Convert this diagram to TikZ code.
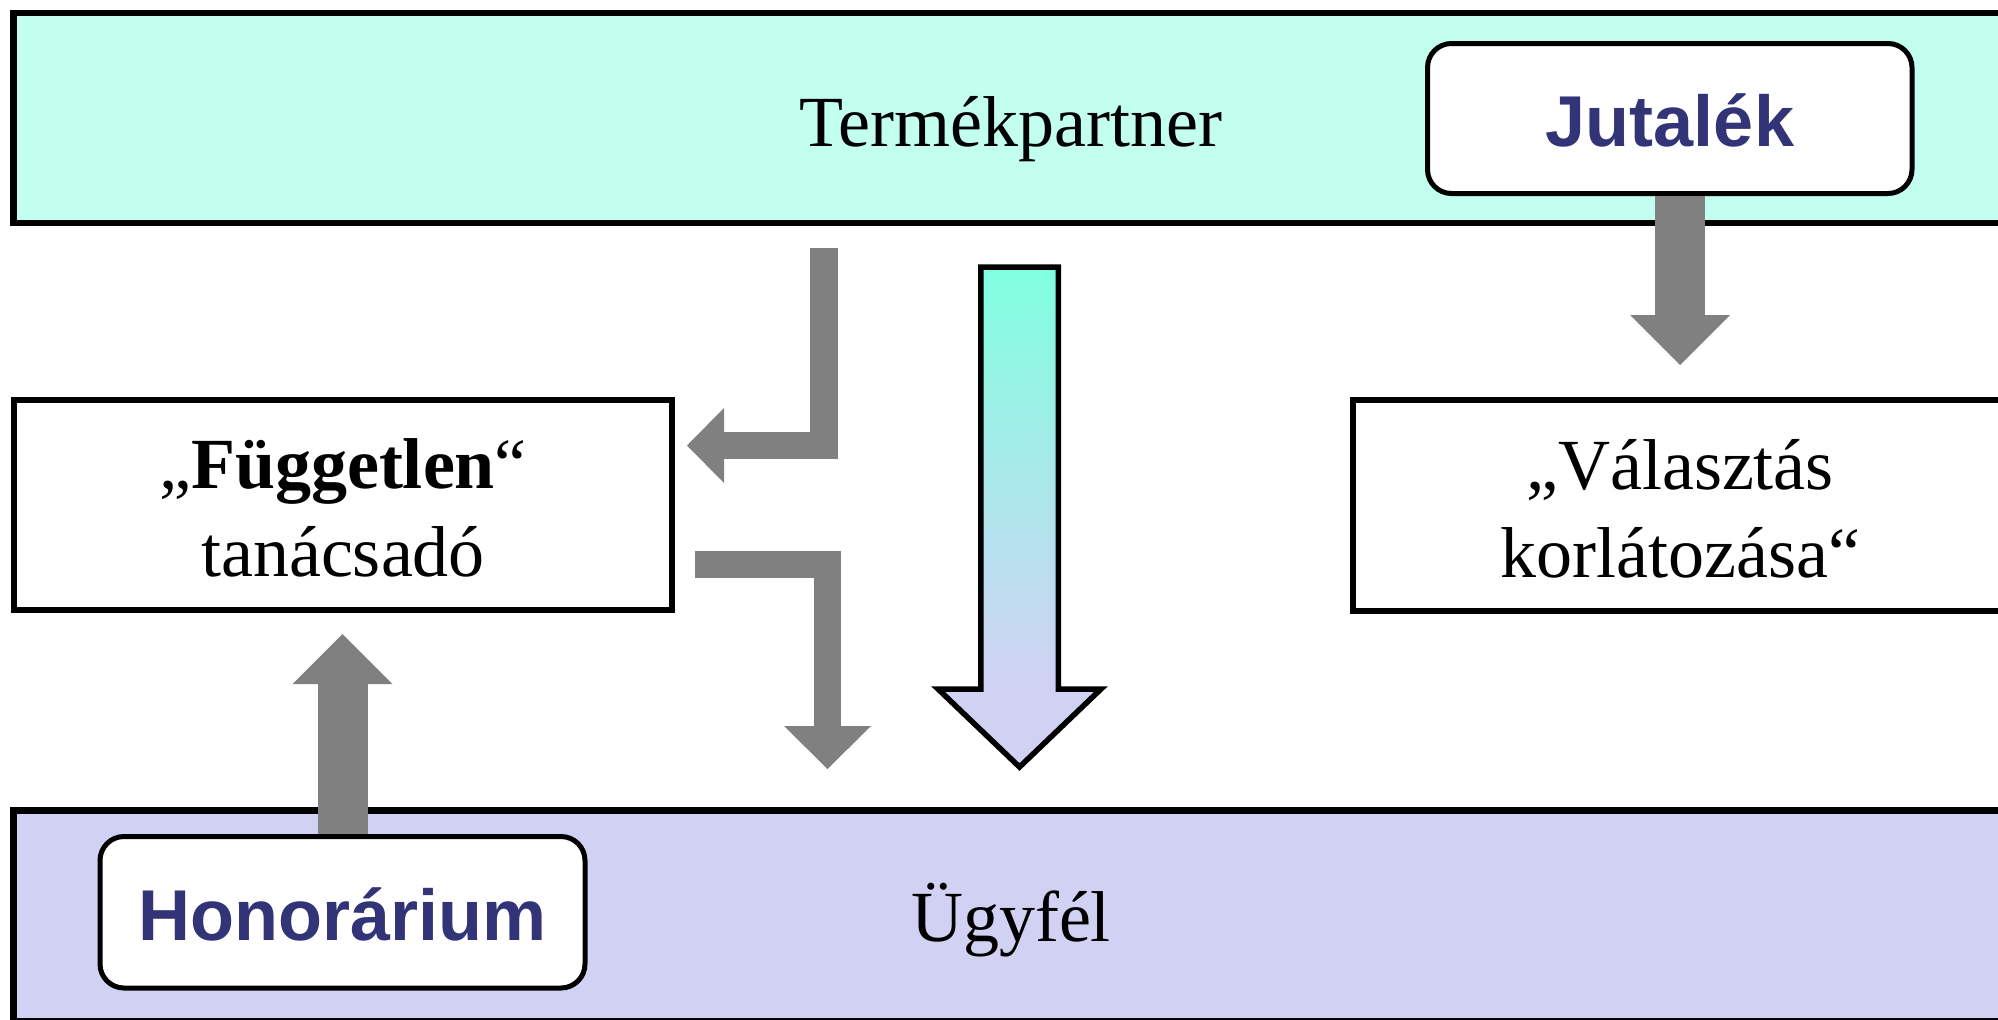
\documentclass[tikz,border=0pt]{standalone}
\usepackage{fontspec}
\setmainfont{Liberation Serif}
\newfontfamily\arialfont{Liberation Sans}
\usetikzlibrary{arrows.meta,fit,calc}
\definecolor{mint}{RGB}{194,255,238}
\definecolor{lav}{RGB}{209,209,243}
\definecolor{navy}{RGB}{51,51,119}
\definecolor{arrowgray}{RGB}{128,128,128}
\definecolor{aqua}{RGB}{128,255,223}
\pgfdeclareverticalshading{bigarrowshade}{100bp}{color(0bp)=(lav); color(33bp)=(lav); color(75bp)=(aqua); color(100bp)=(aqua)}
\begin{document}
\begin{tikzpicture}[x=0.5pt,y=-0.5pt,
  band/.style={draw=black, line width=3.25pt, inner sep=0pt},
  frame/.style={draw=black, line width=3pt, fill=white, inner sep=0pt},
  tagbox/.style={draw=black, line width=2.5pt, fill=white, rounded corners=12pt, inner sep=0pt},
  serif/.style={font=\fontsize{36}{44}\selectfont, inner sep=0pt, anchor=base},
  tagtext/.style={font=\arialfont\bfseries\fontsize{36}{44}\selectfont, text=navy, inner sep=0pt, anchor=base},
  fatarrow/.style={draw=arrowgray, line width=25pt, -{Triangle[width=50pt,length=25pt,line width=0pt]}},
  thinarrow/.style={draw=arrowgray, line width=13.75pt, line join=miter},
]
\clip (0,0) rectangle (1998,1019);
\fill[white] (0,0) rectangle (1998,1019);

% bands
\node[band, fill=mint, fit={(13.5,13) (2008,223)}] (tp) {};
\node[band, fill=lav, fit={(13.5,810.5) (2008,1021)}] (ug) {};

% boxes
\node[frame, fit={(14,400) (671.5,610)}] (fg) {};
\node[frame, fit={(1352.5,399.5) (2007.5,611)}] (vl) {};
\node[tagbox, fit={(1427.5,43.5) (1912,193.5)}] (jut) {};
\node[tagbox, fit={(100,836.5) (585,988)}] (hon) {};

% texts
\node[serif] (tpt) at (1011,146) {Termékpartner};
\node[serif] (ugt) at (1011,941) {Ügyfél};
\node[tagtext] (jutt) at (1670,146) {Jutalék};
\node[tagtext] (hont) at (342.5,940) {Honorárium};
\node[serif] (fgt) at (343,488) {\begin{tabular}[t]{@{}c@{}}„\textbf{Független}“\\tanácsadó\end{tabular}};
\node[serif] (vlt) at (1680,489) {\begin{tabular}[t]{@{}c@{}}„Választás\\korlátozása“\end{tabular}};

% straight gray arrows
\draw[fatarrow, shorten >=15.75pt] (jut.south -| vl.north) -- (vl.north);
\draw[fatarrow, shorten >=10.5pt] (hon.north) -- (hon.north |- fg.south);

% elbow arrows
\coordinate (a2s) at (824,248);
\draw[thinarrow, -{Triangle[width=37.5pt,length=18.5pt,line width=0pt]}, shorten >=6.25pt]
  (a2s) |- ([yshift=29.75pt]fg.east);
\coordinate (a3s) at ([xshift=10.25pt,yshift=-29.75pt]fg.east);
\coordinate (a3t) at (827.5,769);
\draw[thinarrow, -{Triangle[width=43.5pt,length=21.5pt,line width=0pt]}]
  (a3s) -| (a3t);

% big gradient arrow
\draw[line width=2.75pt, line join=miter, shading=bigarrowshade]
  (980.75,267) -- (1058.25,267) -- (1058.25,689) -- (1101,689) -- (1019.5,767)
  -- (938,689) -- (980.75,689) -- cycle;
\end{tikzpicture}
\end{document}
